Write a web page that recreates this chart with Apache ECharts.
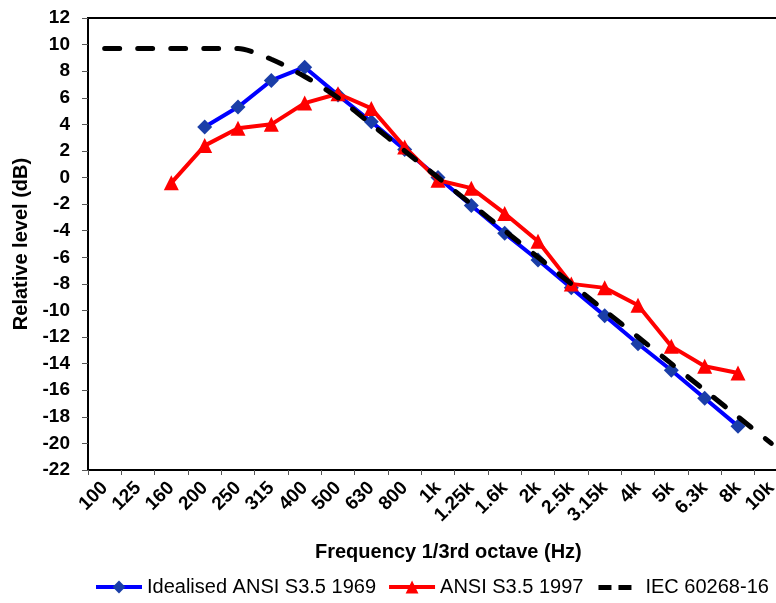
<!DOCTYPE html>
<html>
<head>
<meta charset="utf-8">
<script src="https://cdn.jsdelivr.net/npm/echarts@6/dist/echarts.min.js"></script>
<style>
  html, body { margin: 0; padding: 0; background: #fff; overflow: hidden; }
  /* plot area runs past the right edge of the window, as in the original */
  #chart { width: 800px; height: 603px; }
</style>
</head>
<body>
<div id="chart"></div>
<script>
// 1/3 octave bands
const bands = ['100', '125', '160', '200', '250', '315', '400', '500', '630', '800', '1k',
  '1.25k', '1.6k', '2k', '2.5k', '3.15k', '4k', '5k', '6.3k', '8k', '10k'];

// Idealised ANSI S3.5 1969
const ansi1969 = [null, null, null, 3.8, 5.3, 7.3, 8.3, 6.2, 4.2, 2.1, 0,
  -2.1, -4.2, -6.2, -8.3, -10.4, -12.5, -14.5, -16.6, -18.7, null];

// ANSI S3.5 1997
const ansi1997 = [null, null, -0.4, 2.4, 3.7, 4.0, 5.6, 6.3, 5.2, 2.3, -0.2,
  -0.8, -2.7, -4.8, -8.0, -8.3, -9.6, -12.7, -14.2, -14.7, null];

// IEC 60268-16
const iec = [9.7, 9.7, 9.7, 9.7, 9.7, 8.9, 7.6, 6.0, 4.0, 2.0, 0,
  -2.0, -4.0, -6.0, -8.0, -10.0, -12.0, -14.0, -16.0, -18.0, -20.0];

const font = 'Arial, "Liberation Sans", sans-serif';

const chart = echarts.init(document.querySelector('#chart'));
const option = {
  animation: false,
  textStyle: { fontFamily: font },
  grid: {
    left: 88,
    top: 18,
    width: 700,
    bottom: 133,
    show: true,
    borderColor: '#000',
    borderWidth: 2,
    containLabel: false
  },
  legend: {
    left: 94,
    top: 577,
    width: 700,
    padding: 0,
    itemWidth: 46,
    itemHeight: 16,
    itemGap: 11,
    textStyle: { fontSize: 20, color: '#000', fontFamily: font },
    data: [
      { name: 'Idealised ANSI S3.5 1969', lineStyle: { width: 4 } },
      { name: 'ANSI S3.5 1997', lineStyle: { width: 4 } },
      {
        name: 'IEC 60268-16',
        // two short dashes, like the original key
        icon: 'path://M0,0L0.01,0M0,16L0.01,16M46,0L46.01,0M4,6h13v5h-13zM24,6h13v5h-13z',
        itemStyle: { color: '#000' }
      }
    ]
  },
  graphic: [{
    type: 'text',
    left: 455 - 140,
    top: 542,
    style: {
      text: 'Frequency 1/3rd octave (Hz)',
      fontSize: 20,
      fontWeight: 'bold',
      fontFamily: font,
      fill: '#000'
    }
  }],
  xAxis: {
    type: 'category',
    data: bands,
    boundaryGap: true,
    axisLine: { onZero: false, lineStyle: { color: '#000', width: 2 } },
    axisTick: { show: true, interval: 0, length: 5, lineStyle: { color: '#555' } },
    axisLabel: {
      interval: 0,
      rotate: 45,
      margin: 15,
      fontSize: 19,
      fontWeight: 'bold',
      color: '#000',
      fontFamily: font
    },
    splitLine: { show: false }
  },
  yAxis: {
    type: 'value',
    min: -22,
    max: 12,
    interval: 2,
    name: 'Relative level (dB)',
    nameLocation: 'middle',
    nameGap: 47,
    nameTextStyle: { fontSize: 20, fontWeight: 'bold', color: '#000', fontFamily: font },
    axisLine: { show: true, lineStyle: { color: '#000', width: 2 } },
    axisTick: { show: true, length: 6, lineStyle: { color: '#555' } },
    axisLabel: {
      margin: 18,
      fontSize: 19,
      fontWeight: 'bold',
      color: '#000',
      fontFamily: font
    },
    splitLine: { show: false }
  },
  series: [
    {
      name: 'Idealised ANSI S3.5 1969',
      type: 'line',
      data: ansi1969,
      symbol: 'diamond',
      symbolSize: 15,
      itemStyle: { color: '#1a3ea8' },
      lineStyle: { color: '#0000ff', width: 4 },
      z: 3
    },
    {
      name: 'ANSI S3.5 1997',
      type: 'line',
      data: ansi1997,
      symbol: 'triangle',
      symbolSize: 15,
      itemStyle: { color: '#ff0000' },
      lineStyle: { color: '#ff0000', width: 4 },
      z: 4
    },
    {
      name: 'IEC 60268-16',
      type: 'line',
      data: iec,
      symbol: 'none',
      smooth: 0.25,
      itemStyle: { color: '#000' },
      lineStyle: { color: '#000', width: 5, type: [15, 18], cap: 'round' },
      z: 5
    }
  ]
};
chart.setOption(option);
</script>
</body>
</html>
